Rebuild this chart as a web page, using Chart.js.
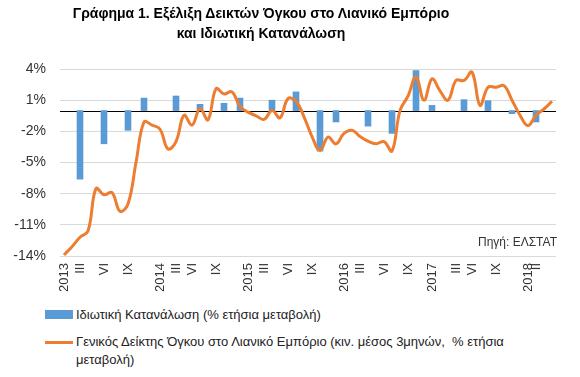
<!DOCTYPE html>
<html>
<head>
<meta charset="utf-8">
<script src="https://cdn.jsdelivr.net/npm/chart.js@4"></script>
<style>
  body { margin: 0; background: #fff; font-family: "Liberation Sans", Arial, sans-serif; }
  #wrap { position: relative; width: 580px; height: 377px; }
  #chartBox { position: absolute; left: 0; top: 0; width: 580px; height: 300px; }
  #title { position: absolute; left: 0; top: 3px; width: 522px; text-align: center;
           font-weight: bold; font-size: 14px; line-height: 20px; color: #000; }
  #source { position: absolute; right: 23px; top: 235px; font-size: 12px; color: #333; }
  .leg { position: absolute; left: 45px; font-size: 13px; line-height: 18px; color: #222; }
  .leg .sw { position: absolute; left: 0; width: 28px; }
  .leg .txt { position: absolute; left: 31px; white-space: nowrap; }
</style>
</head>
<body>
<div id="wrap">
  <div id="chartBox"><canvas id="chart"></canvas></div>
  <div id="title">Γράφημα 1. Εξέλιξη Δεικτών Όγκου στο Λιανικό Εμπόριο<br>και Ιδιωτική Κατανάλωση</div>
  <div id="source">Πηγή: ΕΛΣΤΑΤ</div>
  <div class="leg" style="top:306px">
    <div class="sw" style="top:4px;height:9px;background:#5B9BD5"></div>
    <div class="txt">Ιδιωτική Κατανάλωση (% ετήσια μεταβολή)</div>
  </div>
  <div class="leg" style="top:333px">
    <div class="sw" style="top:8px;height:3px;background:#ED7D31"></div>
    <div class="txt">Γενικός Δείκτης Όγκου στο Λιανικό Εμπόριο (κιν. μέσος 3μηνών,&nbsp; % ετήσια<br>μεταβολή)</div>
  </div>
</div>
<script>
// monthly categories, Jan 2013 .. Feb 2018 (only some carry a label)
const tickLabels = [
  "2013", "", "III", "", "", "VI", "", "", "IX", "", "", "",
  "2014", "", "III", "", "VI", "", "", "IX", "", "", "", "2015",
  "", "III", "", "", "VI", "", "", "IX", "", "", "", "2016",
  "", "III", "", "", "VI", "", "", "IX", "", "", "2017", "",
  "", "III", "", "VI", "", "", "IX", "", "", "", "2018", "II",
  "", ""
];

// retail trade volume index, 3-month moving avg, % y/y
const retail = [
  -13.9, -13.1, -12.2, -11.6, -7.5, -8.1, -7.9, -9.7, -9.0, -5.0, -1.1, -1.4,
  -1.8, -3.7, -3.0, -0.45, -1.4, 0.2, -0.9, 2.1, 1.6, 1.8, 0.4, -0.15,
  -0.5, -0.85, 0.0, -0.7, 1.15, 0.9, -0.6, -2.5, -3.85, -2.55, -3.2, -2.2,
  -1.9, -2.5, -2.95, -3.2, -3.0, -3.9, 0.0, 1.4, 3.25, 1.0, 3.05, 1.9,
  1.0, 2.9, 2.9, 3.7, 0.5, 2.25, 2.25, 2.4, 1.0, -0.45, -1.45, -0.45,
  0.15, 0.9
];

// private consumption, quarterly % y/y
const consumption = [
  null, null, -6.6, null, null, -3.2, null, null, -1.9, null, 1.2, null,
  null, null, 1.4, null, null, 0.6, null, null, 0.7, null, 1.2, null,
  null, null, 1.0, null, null, 1.8, null, null, -3.9, null, -1.1, null,
  null, null, -1.5, null, null, -2.2, null, null, 3.85, null, 0.5, null,
  null, null, 1.05, null, null, 0.95, null, null, -0.3, null, null, -1.1,
  null, null
];

const zeroLine = {
  id: "zeroLine",
  beforeDatasetsDraw(chart) {
    const { ctx, chartArea, scales } = chart;
    const y = Math.round(scales.y.getPixelForValue(0)) + 0.5;
    ctx.save();
    ctx.strokeStyle = "#000";
    ctx.lineWidth = 1;
    ctx.beginPath();
    ctx.moveTo(chartArea.left, y);
    ctx.lineTo(chartArea.right, y);
    ctx.stroke();
    ctx.restore();
  }
};

const ctx = document.getElementById("chart").getContext("2d");
new Chart(ctx, {
  type: "bar",
  data: {
    labels: tickLabels,
    datasets: [
      {
        type: "line",
        label: "Γενικός Δείκτης Όγκου στο Λιανικό Εμπόριο",
        data: retail,
        borderColor: "#ED7D31",
        borderWidth: 3,
        pointRadius: 0,
        tension: 0.4,
        fill: false,
        order: 0
      },
      {
        type: "bar",
        label: "Ιδιωτική Κατανάλωση",
        data: consumption,
        backgroundColor: "#5B9BD5",
        barThickness: 6,
        order: 1
      }
    ]
  },
  plugins: [zeroLine],
  options: {
    responsive: true,
    maintainAspectRatio: false,
    animation: false,
    layout: { padding: { top: 69, right: 24, left: 0, bottom: 0 } },
    plugins: {
      legend: { display: false },
      title: { display: false },
      tooltip: { enabled: false }
    },
    scales: {
      x: {
        grid: { display: false, drawTicks: false },
        border: { display: false },
        ticks: {
          autoSkip: false,
          maxRotation: 90,
          minRotation: 90,
          padding: 7,
          color: "#333",
          font: { family: "Liberation Sans", size: 13 }
        },
        afterFit: s => { s.height = 44; }
      },
      y: {
        min: -14,
        max: 4,
        grid: { color: "#d9d9d9", drawTicks: false },
        border: { display: false },
        ticks: {
          stepSize: 3,
          padding: 14,
          color: "#333",
          font: { family: "Liberation Sans", size: 14 },
          callback: v => v + "%"
        },
        afterFit: s => { s.width = 60; }
      }
    }
  }
});
</script>
</body>
</html>
